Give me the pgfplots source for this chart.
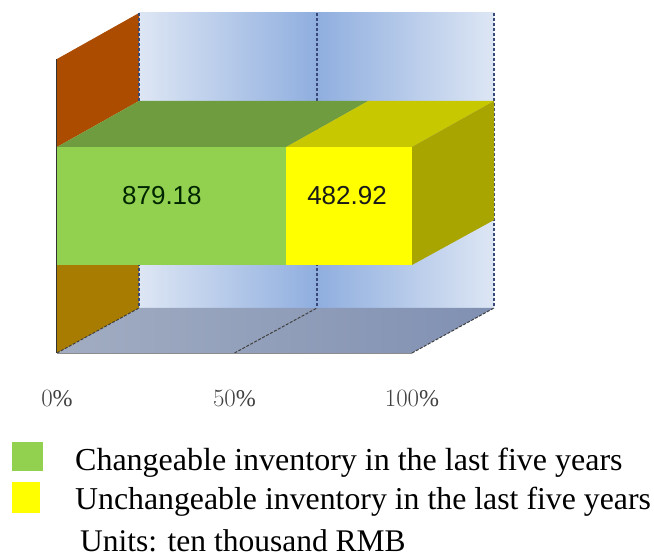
\documentclass[border=0pt]{standalone}
\usepackage{fontspec}
\setmainfont{Liberation Serif}
\newfontfamily\arialf{Liberation Sans}
\usepackage{pgfplots}
\pgfplotsset{compat=1.18}
\definecolor{wallL}{HTML}{DDE6F4}
\definecolor{wallM}{HTML}{8FAEDF}
\definecolor{floorL}{HTML}{A2ADC2}
\definecolor{floorR}{HTML}{8090B2}
\definecolor{dashc}{HTML}{3A4A78}
\definecolor{sideT}{HTML}{AB4C00}
\definecolor{sideB}{HTML}{A87C00}
\definecolor{bargreen}{HTML}{92D050}
\definecolor{bargreenT}{HTML}{6F9C3E}
\definecolor{baryellow}{rgb}{1,1,0}
\definecolor{baryellowT}{HTML}{C8C800}
\definecolor{baryellowS}{HTML}{A8A400}
\begin{document}
\begin{tikzpicture}
\begin{axis}[
  scale only axis, width=654pt, height=557pt,
  xmin=-16.056, xmax=168.17, ymin=0, ymax=557,
  clip=false,
  axis line style={draw=none}, tick style={draw=none},
  ytick=\empty,
  xtick={0,50,100},
  xticklabels={$0\%$,$50\%$,$100\%$},
  xticklabel style={font=\fontsize{24}{28}\selectfont, text=black!75, yshift=170pt},
]
% back walls
\addplot[draw=none,left color=wallL,right color=wallM] coordinates {(23.1,544)(73.24,544)(73.24,249)(23.1,249)} --cycle;
\addplot[draw=none,left color=wallM,right color=wallL] coordinates {(73.24,544)(123.1,544)(123.1,249)(73.24,249)} --cycle;
% floor
\addplot[draw=none,left color=floorL,right color=floorR] coordinates {(0,204)(100,204)(123.1,249)(23.1,249)} --cycle;
% side wall
\addplot[draw=none,fill=sideT] coordinates {(0,498)(23.1,544)(23.1,456)(0,410)} --cycle;
\addplot[draw=none,fill=sideB] coordinates {(0,292)(23.1,292)(23.1,249)(0,204)} --cycle;
% grid dashes
\addplot[dashc,dash pattern=on 3pt off 2pt,line width=1.7pt] coordinates {(23.1,544)(23.1,249)};
\addplot[dashc,dash pattern=on 3pt off 2pt,line width=1.7pt] coordinates {(73.24,544)(73.24,249)};
\addplot[dashc,dash pattern=on 3pt off 2pt,line width=1.7pt] coordinates {(123.1,544)(123.1,249)};
\addplot[black!75,dash pattern=on 3pt off 1.5pt,line width=1pt] coordinates {(0,204)(23.1,249)};
\addplot[black!75,dash pattern=on 3pt off 1.5pt,line width=1pt] coordinates {(50,204)(73.24,249)};
\addplot[black!75,dash pattern=on 3pt off 1.5pt,line width=1pt] coordinates {(100,204)(123.1,249)};
\addplot[black!45,line width=0.6pt] coordinates {(0,204)(100,204)};
\addplot[black!80,line width=1pt] coordinates {(0,498)(0,204)};
% stacked bar: 879.18 = 64.55 %, 482.92 = 35.45 %
\addplot[draw=none,fill=bargreenT] coordinates {(0,410)(23.1,456)(87.65,456)(64.55,410)} --cycle;
\addplot[draw=none,fill=baryellowT] coordinates {(64.55,410)(87.65,456)(123.1,456)(100,410)} --cycle;
\addplot[draw=none,fill=baryellowS] coordinates {(100,410)(123.1,456)(123.1,337)(100,292)} --cycle;
\addplot[draw=none,fill=bargreen] coordinates {(0,292)(64.55,292)(64.55,410)(0,410)} --cycle;
\addplot[draw=none,fill=baryellow] coordinates {(64.55,292)(100,292)(100,410)(64.55,410)} --cycle;
\node[font=\arialf\fontsize{26}{30}\selectfont,text=black!85!green] at (axis cs:29.55,361) {879.18};
\node[font=\arialf\fontsize{26}{30}\selectfont,text=black!90] at (axis cs:81.7,361) {482.92};
% legend
\addplot[draw=none,fill=bargreen] coordinates {(-12.68,115)(-3.94,115)(-3.94,86)(-12.68,86)} --cycle;
\addplot[draw=none,fill=baryellow] coordinates {(-12.68,75)(-4.79,75)(-4.79,44)(-12.68,44)} --cycle;
\node[anchor=base west,inner sep=0pt,font=\fontsize{32}{36}\selectfont] at (axis cs:5.07,86) {Changeable inventory in the last five years};
\node[anchor=base west,inner sep=0pt,font=\fontsize{31.8}{36}\selectfont] at (axis cs:5.07,47) {Unchangeable inventory in the last five years};
\node[anchor=base west,inner sep=0pt,font=\fontsize{31.5}{36}\selectfont] at (axis cs:6.48,5.5) {Units: ten thousand RMB};
\end{axis}
\end{tikzpicture}
\end{document}
